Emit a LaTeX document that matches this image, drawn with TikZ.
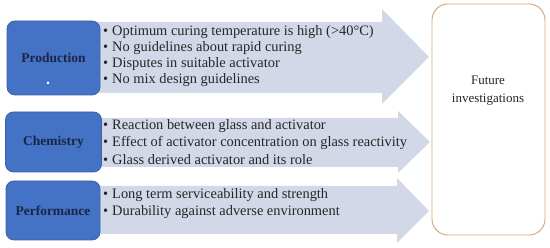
\documentclass[tikz,border=0pt]{standalone}
\usepackage{fontspec}
\setmainfont{Liberation Serif}
\begin{document}
\begin{tikzpicture}[x=1pt,y=-1pt,
  catbox/.style={draw=catborder, line width=0.8pt, fill=catblue, rounded corners=8pt},
  catlabel/.style={font=\fontsize{13.5}{15}\selectfont\bfseries, text=labelnavy, inner sep=0pt},
  arrowfill/.style={fill=arrowgray, draw=none},
  bul/.style={anchor=west, font=\fontsize{14.4}{16}\selectfont, text=black!85, inner sep=0pt},
  futbox/.style={draw=futorange, line width=0.9pt, rounded corners=16pt, fill=white}]
\definecolor{catblue}{HTML}{4472C4}
\definecolor{catborder}{HTML}{3A62AC}
\definecolor{labelnavy}{HTML}{1B2545}
\definecolor{arrowgray}{HTML}{D3D8E9}
\definecolor{futorange}{HTML}{D9A273}
\useasboundingbox (0,0) rectangle (550,248);
\fill[white] (0,0) rectangle (550,248);
% arrows
\fill[arrowfill] (95,22) -- (382,22) -- (382,9) -- (429,57) -- (382,104) -- (382,93) -- (95,93) -- cycle;
\fill[arrowfill] (95,118) -- (398,118) -- (398,111) -- (430,142) -- (398,173) -- (398,167) -- (95,167) -- cycle;
\fill[arrowfill] (95,186) -- (397,186) -- (397,178) -- (429,211) -- (397,243) -- (397,234) -- (95,234) -- cycle;
% category boxes
\node[catbox, minimum width=93pt, minimum height=74pt] (prod) at (53.5,58) {};
\node[catlabel] (prodl) at (53.5,58) {Production};
\node[circle, fill=white, inner sep=0pt, minimum size=3pt] (dot) at (48,83) {};
\node[catbox, minimum width=96pt, minimum height=60pt] (chem) at (53.5,142) {};
\node[catlabel] (cheml) at (53.5,142) {Chemistry};
\node[catbox, minimum width=94pt, minimum height=59pt] (perf) at (53,210.5) {};
\node[catlabel] (perfl) at (53,211) {Performance};
% bullet texts
\node[bul] (p1) at (103,32) {\textbullet\hspace{4pt}Optimum curing temperature is high (>40°C)};
\node[bul] (p2) at (103,48) {\textbullet\hspace{4pt}No guidelines about rapid curing};
\node[bul] (p3) at (103,64) {\textbullet\hspace{4pt}Disputes in suitable activator};
\node[bul] (p4) at (103,80) {\textbullet\hspace{4pt}No mix design guidelines};
\node[bul] (c1) at (103,126) {\textbullet\hspace{4pt}Reaction between glass and activator};
\node[bul] (c2) at (103,143) {\textbullet\hspace{4pt}Effect of activator concentration on glass reactivity};
\node[bul] (c3) at (103,160) {\textbullet\hspace{4pt}Glass derived activator and its role};
\node[bul] (f1) at (103,195) {\textbullet\hspace{4pt}Long term serviceability and strength};
\node[bul] (f2) at (103,212) {\textbullet\hspace{4pt}Durability against adverse environment};
% future box
\node[futbox, minimum width=113pt, minimum height=231pt] (fut) at (488.5,119.5) {};
\node[font=\fontsize{13}{18}\selectfont, align=center, text=black!85] (futl) at (488,91) {Future\\investigations};
\end{tikzpicture}
\end{document}
